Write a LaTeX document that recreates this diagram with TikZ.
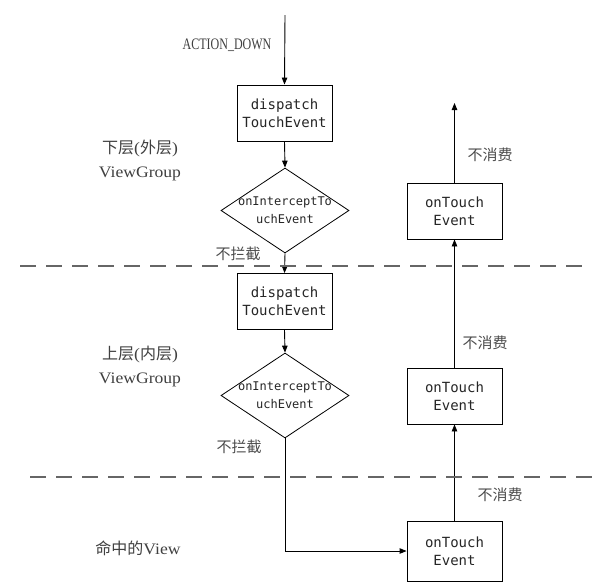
\documentclass[tikz,border=0pt]{standalone}
\usepackage{fontspec}
\setmainfont{Liberation Serif}
\newfontfamily\cjk{Noto Sans CJK SC}
\newfontfamily\lat[FakeStretch=1.1]{Liberation Serif}
\newfontfamily\latn[FakeStretch=0.75]{Liberation Serif}
\newfontfamily\boxfont{DejaVu Sans Mono}
\usetikzlibrary{shapes.geometric,arrows.meta}
\begin{document}
\begin{tikzpicture}[x=1pt,y=-1pt,
  box/.style={draw=black,line width=0.9pt,minimum width=95pt,minimum height=56pt,inner sep=0pt,align=center,font=\boxfont\fontsize{14}{18}\selectfont,text=black!85},
  dia/.style={draw=black,line width=0.8pt,diamond,minimum width=128pt,minimum height=85pt,inner sep=0pt},
  dialabel/.style={align=center,font=\boxfont\fontsize{12}{18}\selectfont,text=black!85,inner sep=0pt},
  arr/.style={draw=black,line width=0.9pt,-{Triangle[length=7pt,width=5.5pt]}},
  sep/.style={draw=black!60,line width=1.4pt,dash pattern=on 16pt off 10pt},
  cn/.style={font=\cjk\fontsize{15}{18}\selectfont,text=black!70,inner sep=0pt},
  side/.style={align=center,inner sep=0pt,text=black!75,font=\fontsize{16}{24}\selectfont}
]
\useasboundingbox (0,0) rectangle (615,587);
\fill[white] (0,0) rectangle (615,587);

% left column
\coordinate (start) at (285,15);
\node[box] (d1) at (284.5,113) {dispatch\\TouchEvent};
\node[dia,label={[dialabel]center:onInterceptTo\\uchEvent}] (i1) at (285,210.5) {};
\node[box] (d2) at (284.5,301.5) {dispatch\\TouchEvent};
\node[dia,label={[dialabel]center:onInterceptTo\\uchEvent}] (i2) at (285,395.5) {};

% right column
\node[box] (t1) at (454.5,211) {onTouch\\Event};
\node[box] (t2) at (454.5,396) {onTouch\\Event};
\node[box,minimum height=60pt] (t3) at (454.5,551) {onTouch\\Event};
\coordinate (topend) at (454.5,103);

% connectors
\draw[arr] (start) -- (d1.north);
\draw[arr] (d1.south) -- (i1.north);
\draw[arr] (i1.south) -- (d2.north);
\draw[arr] (d2.south) -- (i2.north);
\draw[arr] (i2.south) |- (t3.west);
\draw[arr] (t3.north) -- (t2.south);
\draw[arr] (t2.north) -- (t1.south);
\draw[arr] (t1.north) -- (topend);

% separators
\draw[sep] (20,266) -- (592,266);
\draw[sep] (30,477) -- (592,477);

% labels
\node[inner sep=0pt,text=black!75,font=\latn\fontsize{16}{18}\selectfont] (act) at (227,45) {ACTION\_DOWN};
\node[cn] (n1) at (238,254) {不拦截};
\node[cn] (n2) at (239,447) {不拦截};
\node[cn] (c1) at (490,155) {不消费};
\node[cn] (c2) at (485,343) {不消费};
\node[cn] (c3) at (500,495) {不消费};

\node[side] (s1) at (140,160) {{\cjk 下层}{\lat(}{\cjk 外层}{\lat)}\\{\lat ViewGroup}};
\node[side] (s2) at (140,366) {{\cjk 上层}{\lat(}{\cjk 内层}{\lat)}\\{\lat ViewGroup}};
\node[side] (s3) at (138,548) {{\cjk 命中的}{\lat View}};
\end{tikzpicture}
\end{document}
